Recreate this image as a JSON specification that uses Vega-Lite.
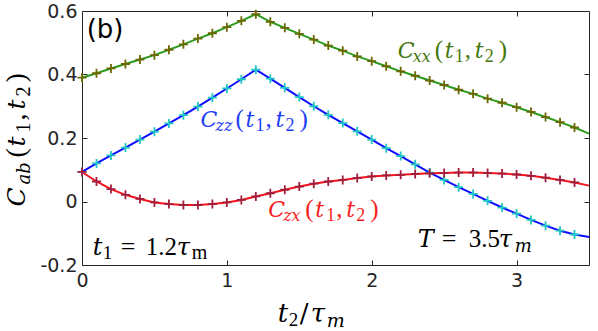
{
  "$schema": "https://vega.github.io/schema/vega-lite/v6.json",
  "width": 507,
  "height": 254,
  "autosize": {"type": "none"},
  "padding": {"left": 82, "top": 11, "right": 9, "bottom": 66},
  "background": "white",
  "config": {
    "view": {"stroke": "#262626", "strokeWidth": 1},
    "text": {"align": "left", "baseline": "alphabetic"},
    "style": {
      "m": {"font": "DejaVu Serif", "fontStyle": "italic", "fontSize": 22},
      "mu": {"font": "Liberation Serif", "fontStyle": "normal", "fontSize": 25},
      "s": {"font": "DejaVu Serif", "fontStyle": "italic", "fontSize": 16},
      "su": {"font": "Liberation Serif", "fontStyle": "normal", "fontSize": 18},
      "M": {"font": "DejaVu Serif", "fontStyle": "italic", "fontSize": 24},
      "MU": {"font": "Liberation Serif", "fontStyle": "normal", "fontSize": 26},
      "S": {"font": "DejaVu Serif", "fontStyle": "italic", "fontSize": 18},
      "SU": {"font": "Liberation Serif", "fontStyle": "normal", "fontSize": 19}
    }
  },
  "datasets": {
    "curves": [
      {"t": 0.0, "s": "xx", "v": 0.390}, {"t": 0.1, "s": "xx", "v": 0.404}, {"t": 0.2, "s": "xx", "v": 0.419}, {"t": 0.3, "s": "xx", "v": 0.433},
      {"t": 0.4, "s": "xx", "v": 0.447}, {"t": 0.5, "s": "xx", "v": 0.461}, {"t": 0.6, "s": "xx", "v": 0.478}, {"t": 0.7, "s": "xx", "v": 0.495},
      {"t": 0.8, "s": "xx", "v": 0.513}, {"t": 0.9, "s": "xx", "v": 0.530}, {"t": 1.0, "s": "xx", "v": 0.549}, {"t": 1.1, "s": "xx", "v": 0.569},
      {"t": 1.2, "s": "xx", "v": 0.590}, {"t": 1.3, "s": "xx", "v": 0.566}, {"t": 1.4, "s": "xx", "v": 0.547}, {"t": 1.5, "s": "xx", "v": 0.528},
      {"t": 1.6, "s": "xx", "v": 0.510}, {"t": 1.7, "s": "xx", "v": 0.491}, {"t": 1.8, "s": "xx", "v": 0.475}, {"t": 1.9, "s": "xx", "v": 0.457},
      {"t": 2.0, "s": "xx", "v": 0.442}, {"t": 2.1, "s": "xx", "v": 0.426}, {"t": 2.2, "s": "xx", "v": 0.410}, {"t": 2.3, "s": "xx", "v": 0.396},
      {"t": 2.4, "s": "xx", "v": 0.381}, {"t": 2.5, "s": "xx", "v": 0.367}, {"t": 2.6, "s": "xx", "v": 0.352}, {"t": 2.7, "s": "xx", "v": 0.339},
      {"t": 2.8, "s": "xx", "v": 0.324}, {"t": 2.9, "s": "xx", "v": 0.311}, {"t": 3.0, "s": "xx", "v": 0.297}, {"t": 3.1, "s": "xx", "v": 0.282},
      {"t": 3.2, "s": "xx", "v": 0.266}, {"t": 3.3, "s": "xx", "v": 0.250}, {"t": 3.4, "s": "xx", "v": 0.233}, {"t": 3.5, "s": "xx", "v": 0.214},
      {"t": 0.0, "s": "zz", "v": 0.093}, {"t": 0.1, "s": "zz", "v": 0.120}, {"t": 0.2, "s": "zz", "v": 0.145}, {"t": 0.3, "s": "zz", "v": 0.170},
      {"t": 0.4, "s": "zz", "v": 0.195}, {"t": 0.5, "s": "zz", "v": 0.220}, {"t": 0.6, "s": "zz", "v": 0.246}, {"t": 0.7, "s": "zz", "v": 0.272},
      {"t": 0.8, "s": "zz", "v": 0.299}, {"t": 0.9, "s": "zz", "v": 0.327}, {"t": 1.0, "s": "zz", "v": 0.356}, {"t": 1.1, "s": "zz", "v": 0.385},
      {"t": 1.2, "s": "zz", "v": 0.415}, {"t": 1.3, "s": "zz", "v": 0.387}, {"t": 1.4, "s": "zz", "v": 0.358}, {"t": 1.5, "s": "zz", "v": 0.329},
      {"t": 1.6, "s": "zz", "v": 0.300}, {"t": 1.7, "s": "zz", "v": 0.273}, {"t": 1.8, "s": "zz", "v": 0.247}, {"t": 1.9, "s": "zz", "v": 0.221},
      {"t": 2.0, "s": "zz", "v": 0.195}, {"t": 2.1, "s": "zz", "v": 0.168}, {"t": 2.2, "s": "zz", "v": 0.143}, {"t": 2.3, "s": "zz", "v": 0.117},
      {"t": 2.4, "s": "zz", "v": 0.091}, {"t": 2.5, "s": "zz", "v": 0.068}, {"t": 2.6, "s": "zz", "v": 0.045}, {"t": 2.7, "s": "zz", "v": 0.024},
      {"t": 2.8, "s": "zz", "v": 0.002}, {"t": 2.9, "s": "zz", "v": -0.019}, {"t": 3.0, "s": "zz", "v": -0.038}, {"t": 3.1, "s": "zz", "v": -0.058},
      {"t": 3.2, "s": "zz", "v": -0.076}, {"t": 3.3, "s": "zz", "v": -0.092}, {"t": 3.4, "s": "zz", "v": -0.104}, {"t": 3.5, "s": "zz", "v": -0.112},
      {"t": 0.0, "s": "zx", "v": 0.093}, {"t": 0.1, "s": "zx", "v": 0.063}, {"t": 0.2, "s": "zx", "v": 0.039}, {"t": 0.3, "s": "zx", "v": 0.021},
      {"t": 0.4, "s": "zx", "v": 0.008}, {"t": 0.5, "s": "zx", "v": -0.003}, {"t": 0.6, "s": "zx", "v": -0.008}, {"t": 0.7, "s": "zx", "v": -0.011},
      {"t": 0.8, "s": "zx", "v": -0.011}, {"t": 0.9, "s": "zx", "v": -0.008}, {"t": 1.0, "s": "zx", "v": -0.003}, {"t": 1.1, "s": "zx", "v": 0.005},
      {"t": 1.2, "s": "zx", "v": 0.016}, {"t": 1.3, "s": "zx", "v": 0.026}, {"t": 1.4, "s": "zx", "v": 0.037}, {"t": 1.5, "s": "zx", "v": 0.047},
      {"t": 1.6, "s": "zx", "v": 0.056}, {"t": 1.7, "s": "zx", "v": 0.063}, {"t": 1.8, "s": "zx", "v": 0.068}, {"t": 1.9, "s": "zx", "v": 0.074},
      {"t": 2.0, "s": "zx", "v": 0.079}, {"t": 2.1, "s": "zx", "v": 0.082}, {"t": 2.2, "s": "zx", "v": 0.084}, {"t": 2.3, "s": "zx", "v": 0.087},
      {"t": 2.4, "s": "zx", "v": 0.089}, {"t": 2.5, "s": "zx", "v": 0.090}, {"t": 2.6, "s": "zx", "v": 0.091}, {"t": 2.7, "s": "zx", "v": 0.091},
      {"t": 2.8, "s": "zx", "v": 0.090}, {"t": 2.9, "s": "zx", "v": 0.088}, {"t": 3.0, "s": "zx", "v": 0.085}, {"t": 3.1, "s": "zx", "v": 0.081},
      {"t": 3.2, "s": "zx", "v": 0.075}, {"t": 3.3, "s": "zx", "v": 0.068}, {"t": 3.4, "s": "zx", "v": 0.060}, {"t": 3.5, "s": "zx", "v": 0.050}
    ],
    "ann": [
      {"id": "cxx", "t": 2.180, "v": 0.452},
      {"id": "czz", "t": 0.818, "v": 0.2345},
      {"id": "czx", "t": 1.285, "v": -0.049},
      {"id": "t1", "t": 0.074, "v": -0.168},
      {"id": "T", "t": 2.318, "v": -0.142},
      {"id": "b", "t": 0.032, "v": 0.515},
      {"id": "ytitle", "t": -0.396, "v": -0.016},
      {"id": "xtitle", "t": 1.3515, "v": -0.378}
    ]
  },
  "resolve": {"scale": {"color": "independent"}, "axis": {"x": "independent", "y": "independent"}},
  "layer": [
    {
      "data": {"name": "curves"},
      "mark": {"type": "line", "strokeWidth": 2},
      "encoding": {
        "x": {"field": "t", "type": "quantitative", "scale": {"domain": [0, 3.5], "nice": false, "zero": false},
          "axis": {"orient": "bottom", "values": [0, 1, 2, 3], "title": null, "domain": false, "grid": false, "tickSize": -5, "tickColor": "#262626", "labelPadding": 11, "labelFont": "DejaVu Sans", "labelFontSize": 19, "labelColor": "#262626", "labelFlush": false}},
        "y": {"field": "v", "type": "quantitative", "scale": {"domain": [-0.2, 0.6], "nice": false, "zero": false},
          "axis": {"orient": "left", "values": [-0.2, 0, 0.2, 0.4, 0.6], "title": null, "domain": false, "grid": false, "tickSize": -5, "tickColor": "#262626", "labelPadding": 10, "labelFont": "DejaVu Sans", "labelFontSize": 19, "labelColor": "#262626", "labelFlush": false,
            "labelExpr": "abs(datum.value) < 1e-9 ? '0' : replace(format(datum.value, '.1f'), '\u2212', '-')"}},
        "color": {"field": "s", "type": "nominal", "scale": {"domain": ["xx", "zz", "zx"], "range": ["#2d9b1e", "#0d0dff", "#f5141e"]}, "legend": null}
      }
    },
    {
      "data": {"name": "curves"},
      "transform": [{"filter": "datum.t < 3.45"}],
      "mark": {"type": "point", "shape": "M-1,0L1,0M0,-1L0,1", "filled": false, "size": 81, "strokeWidth": 1.8, "opacity": 1},
      "encoding": {
        "x": {"field": "t", "type": "quantitative", "scale": {"domain": [0, 3.5], "nice": false, "zero": false},
          "axis": {"orient": "top", "values": [0, 1, 2, 3], "title": null, "domain": false, "grid": false, "labels": false, "tickSize": -5, "tickColor": "#262626"}},
        "y": {"field": "v", "type": "quantitative", "scale": {"domain": [-0.2, 0.6], "nice": false, "zero": false},
          "axis": {"orient": "right", "values": [-0.2, 0, 0.2, 0.4, 0.6], "title": null, "domain": false, "grid": false, "labels": false, "tickSize": -5, "tickColor": "#262626"}},
        "color": {"field": "s", "type": "nominal", "scale": {"domain": ["xx", "zz", "zx"], "range": ["#6b6600", "#20c5c5", "#a01e3c"]}, "legend": null}
      }
    },
    {
      "data": {"name": "ann"},
      "encoding": {
        "x": {"field": "t", "type": "quantitative", "scale": {"domain": [0, 3.5], "nice": false, "zero": false}, "axis": null},
        "y": {"field": "v", "type": "quantitative", "scale": {"domain": [-0.2, 0.6], "nice": false, "zero": false}, "axis": null}
      },
      "layer": [
        {"transform": [{"filter": "datum.id === 'cxx'"}], "layer": [
          {"mark": {"type": "text", "style": "m", "text": "C", "dx": 0, "color": "#44780f"}},
          {"mark": {"type": "text", "style": "s", "text": "xx", "dx": 15, "dy": 4, "color": "#44780f"}},
          {"mark": {"type": "text", "style": "mu", "text": "(", "dx": 37, "color": "#44780f"}},
          {"mark": {"type": "text", "style": "m", "text": "t", "dx": 47, "color": "#44780f"}},
          {"mark": {"type": "text", "style": "su", "text": "1", "dx": 57, "dy": 4, "color": "#44780f"}},
          {"mark": {"type": "text", "style": "mu", "text": ",", "dx": 67, "color": "#44780f"}},
          {"mark": {"type": "text", "style": "m", "text": "t", "dx": 77, "color": "#44780f"}},
          {"mark": {"type": "text", "style": "su", "text": "2", "dx": 87, "dy": 4, "color": "#44780f"}},
          {"mark": {"type": "text", "style": "mu", "text": ")", "dx": 101, "color": "#44780f"}}
        ]},
        {"transform": [{"filter": "datum.id === 'czz'"}], "layer": [
          {"mark": {"type": "text", "style": "m", "text": "C", "dx": 0, "color": "#1f3ff5"}},
          {"mark": {"type": "text", "style": "s", "text": "zz", "dx": 15, "dy": 4, "color": "#1f3ff5"}},
          {"mark": {"type": "text", "style": "mu", "text": "(", "dx": 35, "color": "#1f3ff5"}},
          {"mark": {"type": "text", "style": "m", "text": "t", "dx": 45, "color": "#1f3ff5"}},
          {"mark": {"type": "text", "style": "su", "text": "1", "dx": 55, "dy": 4, "color": "#1f3ff5"}},
          {"mark": {"type": "text", "style": "mu", "text": ",", "dx": 65, "color": "#1f3ff5"}},
          {"mark": {"type": "text", "style": "m", "text": "t", "dx": 75, "color": "#1f3ff5"}},
          {"mark": {"type": "text", "style": "su", "text": "2", "dx": 85, "dy": 4, "color": "#1f3ff5"}},
          {"mark": {"type": "text", "style": "mu", "text": ")", "dx": 99, "color": "#1f3ff5"}}
        ]},
        {"transform": [{"filter": "datum.id === 'czx'"}], "layer": [
          {"mark": {"type": "text", "style": "m", "text": "C", "dx": 0, "color": "#f51e1e"}},
          {"mark": {"type": "text", "style": "s", "text": "zx", "dx": 15, "dy": 4, "color": "#f51e1e"}},
          {"mark": {"type": "text", "style": "mu", "text": "(", "dx": 37, "color": "#f51e1e"}},
          {"mark": {"type": "text", "style": "m", "text": "t", "dx": 47, "color": "#f51e1e"}},
          {"mark": {"type": "text", "style": "su", "text": "1", "dx": 58, "dy": 4, "color": "#f51e1e"}},
          {"mark": {"type": "text", "style": "mu", "text": ",", "dx": 68, "color": "#f51e1e"}},
          {"mark": {"type": "text", "style": "m", "text": "t", "dx": 78, "color": "#f51e1e"}},
          {"mark": {"type": "text", "style": "su", "text": "2", "dx": 88, "dy": 4, "color": "#f51e1e"}},
          {"mark": {"type": "text", "style": "mu", "text": ")", "dx": 102, "color": "#f51e1e"}}
        ]},
        {"transform": [{"filter": "datum.id === 't1'"}], "layer": [
          {"mark": {"type": "text", "style": "M", "text": "t", "dx": 0, "color": "#000000"}},
          {"mark": {"type": "text", "style": "SU", "text": "1", "dx": 10, "dy": 4, "color": "#000000"}},
          {"mark": {"type": "text", "style": "MU", "text": "=", "dx": 28, "color": "#000000"}},
          {"mark": {"type": "text", "style": "MU", "text": "1.2", "dx": 53, "fontSize": 25, "color": "#000000"}},
          {"mark": {"type": "text", "style": "M", "text": "τ", "dx": 84, "color": "#000000"}},
          {"mark": {"type": "text", "style": "SU", "text": "m", "dx": 99, "dy": 4, "fontSize": 20, "color": "#000000"}}
        ]},
        {"transform": [{"filter": "datum.id === 'T'"}], "layer": [
          {"mark": {"type": "text", "style": "M", "text": "T", "dx": 0, "color": "#000000"}},
          {"mark": {"type": "text", "style": "MU", "text": "=", "dx": 24, "color": "#000000"}},
          {"mark": {"type": "text", "style": "MU", "text": "3.5", "dx": 51, "fontSize": 25, "color": "#000000"}},
          {"mark": {"type": "text", "style": "M", "text": "τ", "dx": 81, "color": "#000000"}},
          {"mark": {"type": "text", "style": "S", "text": "m", "dx": 97, "dy": 5, "color": "#000000"}}
        ]},
        {"transform": [{"filter": "datum.id === 'b'"}],
          "mark": {"type": "text", "text": "(b)", "font": "DejaVu Sans", "fontSize": 26, "color": "#000000"}},
        {"transform": [{"filter": "datum.id === 'ytitle'"}], "layer": [
          {"mark": {"type": "text", "style": "M", "fontSize": 25, "text": "C", "angle": 270, "dx": 0, "color": "#000000"}},
          {"mark": {"type": "text", "style": "S", "fontSize": 18, "text": "ab", "angle": 270, "dx": 22, "dy": 5, "color": "#000000"}},
          {"mark": {"type": "text", "style": "MU", "fontSize": 28, "text": "(", "angle": 270, "dx": 49, "color": "#000000"}},
          {"mark": {"type": "text", "style": "M", "fontSize": 25, "text": "t", "angle": 270, "dx": 60, "color": "#000000"}},
          {"mark": {"type": "text", "style": "SU", "fontSize": 20, "text": "1", "angle": 270, "dx": 74, "dy": 5, "color": "#000000"}},
          {"mark": {"type": "text", "style": "MU", "fontSize": 28, "text": ",", "angle": 270, "dx": 86, "color": "#000000"}},
          {"mark": {"type": "text", "style": "M", "fontSize": 25, "text": "t", "angle": 270, "dx": 97, "color": "#000000"}},
          {"mark": {"type": "text", "style": "SU", "fontSize": 20, "text": "2", "angle": 270, "dx": 110, "dy": 5, "color": "#000000"}},
          {"mark": {"type": "text", "style": "MU", "fontSize": 28, "text": ")", "angle": 270, "dx": 124, "color": "#000000"}}
        ]},
        {"transform": [{"filter": "datum.id === 'xtitle'"}], "layer": [
          {"mark": {"type": "text", "style": "M", "fontSize": 26, "text": "t", "dx": 0, "color": "#000000"}},
          {"mark": {"type": "text", "style": "SU", "fontSize": 19, "text": "2", "dx": 11, "dy": 4, "color": "#000000"}},
          {"mark": {"type": "text", "style": "MU", "font": "DejaVu Serif", "fontSize": 26, "text": "/", "dx": 22, "color": "#000000"}},
          {"mark": {"type": "text", "style": "M", "fontSize": 26, "text": "τ", "dx": 33, "color": "#000000"}},
          {"mark": {"type": "text", "style": "S", "fontSize": 19, "text": "m", "dx": 49, "dy": 5, "color": "#000000"}}
        ]}
      ]
    }
  ]
}
